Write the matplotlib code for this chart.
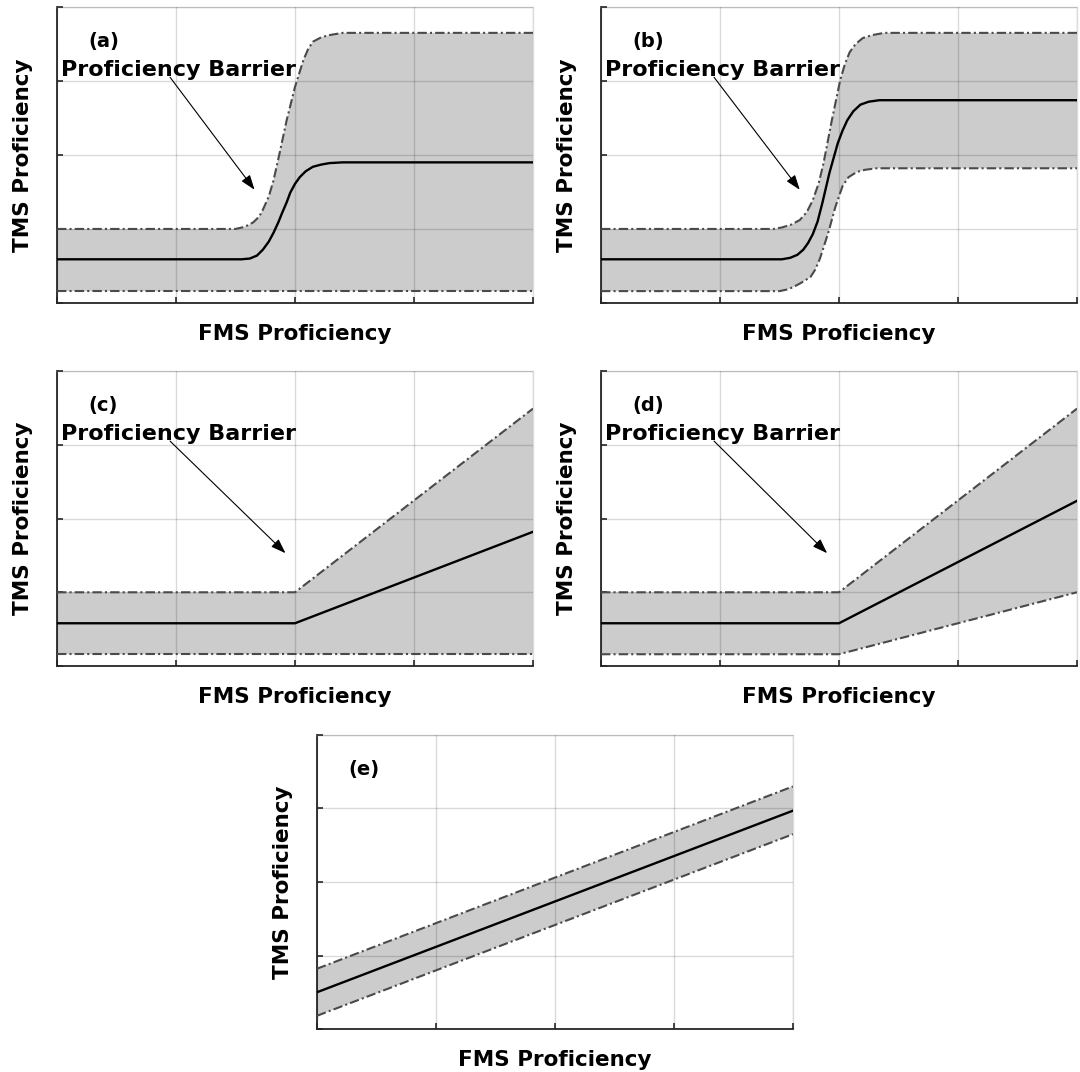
import matplotlib
matplotlib.use('Agg')
import matplotlib.pyplot as plt

# Data (x and y both on a 0-4 scale)
a_mean_x = [0, 1.55, 1.62, 1.68, 1.73, 1.78, 1.82, 1.86, 1.89, 1.93, 1.96,
            2.0, 2.04, 2.09, 2.15, 2.22, 2.29, 2.4, 4]
a_mean = [0.59, 0.59, 0.60, 0.64, 0.72, 0.83, 0.95, 1.09, 1.21, 1.36, 1.49,
          1.61, 1.70, 1.78, 1.84, 1.87, 1.89, 1.90, 1.90]
a_upper_x = [0, 1.5, 1.58, 1.65, 1.70, 1.73, 1.78, 1.82, 1.87, 1.93, 2.0,
             2.07, 2.11, 2.15, 2.22, 2.29, 2.4, 4]
a_upper = [1.0, 1.0, 1.03, 1.09, 1.17, 1.26, 1.44, 1.66, 2.02, 2.47, 2.92,
           3.28, 3.43, 3.53, 3.59, 3.62, 3.65, 3.65]
a_lower_x = [0, 4]
a_lower = [0.16, 0.16]

b_mean_x = [0, 1.52, 1.59, 1.65, 1.70, 1.74, 1.78, 1.82, 1.86, 1.92, 1.99,
            2.03, 2.07, 2.12, 2.18, 2.25, 2.34, 4]
b_mean = [0.59, 0.59, 0.61, 0.65, 0.72, 0.81, 0.93, 1.10, 1.35, 1.76, 2.16,
          2.33, 2.47, 2.59, 2.68, 2.72, 2.74, 2.74]
b_upper_x = [0, 1.45, 1.52, 1.60, 1.67, 1.73, 1.78, 1.83, 1.87, 1.94, 2.01,
             2.05, 2.09, 2.14, 2.20, 2.28, 2.38, 4]
b_upper = [1.0, 1.0, 1.02, 1.06, 1.12, 1.23, 1.39, 1.62, 1.89, 2.47, 3.01,
           3.23, 3.39, 3.50, 3.58, 3.62, 3.65, 3.65]
b_lower_x = [0, 1.5, 1.56, 1.61, 1.68, 1.76, 1.80, 1.84, 1.91, 1.97, 2.03,
             2.08, 2.15, 2.22, 2.32, 2.45, 4]
b_lower = [0.16, 0.16, 0.18, 0.21, 0.27, 0.35, 0.45, 0.60, 0.95, 1.30, 1.58,
           1.70, 1.77, 1.80, 1.82, 1.82, 1.82]

lin_x = [0, 2, 4]
c_mean = [0.58, 0.58, 1.82]
c_upper = [1.0, 1.0, 3.49]
c_lower = [0.16, 0.16, 0.16]

d_mean = [0.58, 0.58, 2.24]
d_upper = [1.0, 1.0, 3.49]
d_lower = [0.16, 0.16, 1.0]

e_x = [0, 4]
e_mean = [0.50, 2.97]
e_upper = [0.82, 3.30]
e_lower = [0.18, 2.65]

# tag, (x, y) mean, upper, lower, arrow tip
panels = [
    ('(a)', (a_mean_x, a_mean), (a_upper_x, a_upper), (a_lower_x, a_lower), (1.66, 1.53)),
    ('(b)', (b_mean_x, b_mean), (b_upper_x, b_upper), (b_lower_x, b_lower), (1.67, 1.53)),
    ('(c)', (lin_x, c_mean), (lin_x, c_upper), (lin_x, c_lower), (1.92, 1.53)),
    ('(d)', (lin_x, d_mean), (lin_x, d_upper), (lin_x, d_lower), (1.90, 1.53)),
    ('(e)', (e_x, e_mean), (e_x, e_upper), (e_x, e_lower), None),
]

# axes rectangles in figure fractions
rects = [
    [0.0528, 0.7174, 0.4407, 0.2761],
    [0.5565, 0.7174, 0.4407, 0.2761],
    [0.0528, 0.3787, 0.4407, 0.2752],
    [0.5565, 0.3787, 0.4407, 0.2752],
    [0.2935, 0.0401, 0.4407, 0.2743],
]

plt.rcParams['font.family'] = 'DejaVu Sans'
fig = plt.figure(figsize=(10.8, 10.72), dpi=100)

dashdot = (0, (4.5, 1.5, 1, 1.5))
bandc = '#4a4a4a'
axc = '#262626'

for (tag, mean, upper, lower, tip), r in zip(panels, rects):
    ax = fig.add_axes(r)
    # band polygon: upper edge left->right, lower edge right->left
    px = list(upper[0]) + list(lower[0])[::-1]
    py = list(upper[1]) + list(lower[1])[::-1]
    ax.fill(px, py, color='#cccccc', lw=0, zorder=1)
    ax.plot(upper[0], upper[1], color=bandc, lw=1.5, ls=dashdot, zorder=3)
    ax.plot(lower[0], lower[1], color=bandc, lw=1.5, ls=dashdot, zorder=3)
    ax.plot(mean[0], mean[1], color='black', lw=1.7, zorder=3,
            solid_joinstyle='round')

    ax.set_xlim(0, 4)
    ax.set_ylim(0, 4)
    ax.set_xticks([0, 1, 2, 3, 4])
    ax.set_yticks([0, 1, 2, 3, 4])
    ax.set_xticklabels([])
    ax.set_yticklabels([])
    ax.set_axisbelow(False)
    ax.grid(True, color='black', alpha=0.15, lw=1.0)
    ax.tick_params(direction='in', length=4, width=1.2, color=axc)
    for s in ['left', 'bottom']:
        ax.spines[s].set_color(axc)
        ax.spines[s].set_linewidth(1.3)
    for s in ['top', 'right']:
        ax.spines[s].set_color('#dcdcdc')
        ax.spines[s].set_linewidth(1.0)

    ax.set_xlabel('FMS Proficiency', fontsize=15.5, fontweight='bold')
    ax.set_ylabel('TMS Proficiency', fontsize=15.5, fontweight='bold')
    ax.xaxis.set_label_coords(0.5, -0.07)
    ax.yaxis.set_label_coords(-0.05, 0.5)

    ax.text(0.26, 3.53, tag, fontsize=14, fontweight='bold',
            ha='left', va='center', zorder=4)
    if tip is not None:
        ax.text(0.03, 3.15, 'Proficiency Barrier', fontsize=16,
                fontweight='bold', ha='left', va='center', zorder=4)
        ax.annotate('', xy=tip, xytext=(0.95, 3.05),
                    arrowprops=dict(arrowstyle='-|>,head_length=0.9,head_width=0.32',
                                    color='black', lw=0.8, shrinkA=0, shrinkB=0),
                    zorder=4)

fig.savefig('out.png', dpi=100)
